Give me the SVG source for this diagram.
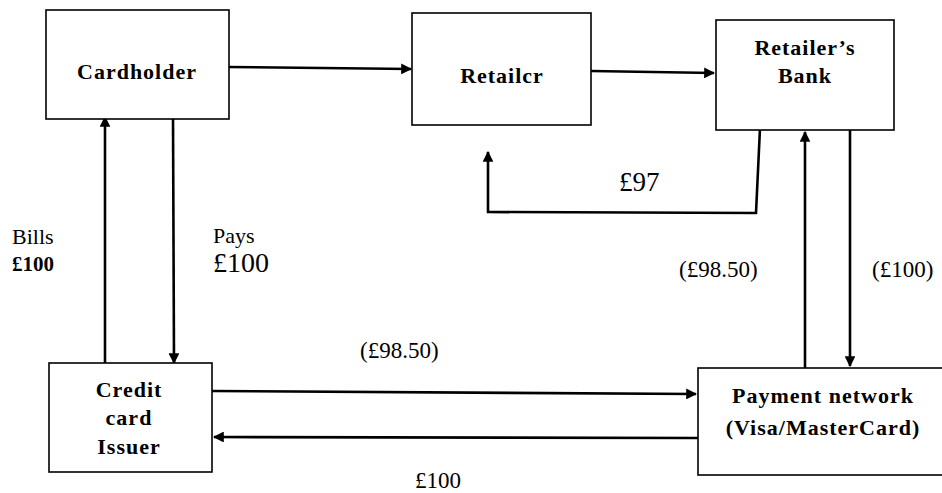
<svg xmlns="http://www.w3.org/2000/svg" width="942" height="493" viewBox="0 0 942 493">
<style>
.box{fill:#fff;stroke:#000;stroke-width:1.6}
.lbl{font-family:"Liberation Serif","Times New Roman",serif;font-weight:bold;font-size:22px;letter-spacing:1px;fill:#000;text-anchor:middle}
.t{font-family:"Liberation Serif","Times New Roman",serif;fill:#000}
.c{stroke:#000;stroke-width:2.6;fill:none}
</style>
<defs>
<marker id="ah" viewBox="0 0 10 10" refX="9" refY="5" markerWidth="4.2" markerHeight="4.2" orient="auto" markerUnits="strokeWidth">
<path d="M0,0 L10,5 L0,10 z" fill="#000"/>
</marker>
</defs>
<rect width="942" height="493" fill="#fff"/>
<g id="connectors">
<line class="c" x1="229" y1="67" x2="411" y2="69" marker-end="url(#ah)"/>
<line class="c" x1="591" y1="71" x2="714" y2="73" marker-end="url(#ah)"/>
<polyline class="c" points="760,128 756,213 488,212 488,152" marker-end="url(#ah)"/>
<line class="c" x1="105" y1="363" x2="105" y2="117" marker-end="url(#ah)"/>
<line class="c" x1="173" y1="116" x2="174" y2="363" marker-end="url(#ah)"/>
<line class="c" x1="212" y1="391" x2="696" y2="394" marker-end="url(#ah)"/>
<line class="c" x1="698" y1="438" x2="214" y2="437" marker-end="url(#ah)"/>
<line class="c" x1="805" y1="368" x2="805" y2="132" marker-end="url(#ah)"/>
<line class="c" x1="850" y1="129" x2="850" y2="366" marker-end="url(#ah)"/>
</g>
<g id="cardholder">
<rect class="box" x="46" y="10" width="183" height="109"/>
<text class="lbl" x="137" y="79">Cardholder</text>
</g>
<g id="retailer">
<rect class="box" x="412" y="13" width="179" height="112"/>
<text class="lbl" x="502" y="83">Retailcr</text>
</g>
<g id="retailers-bank">
<rect class="box" x="716" y="20" width="178" height="110"/>
<text class="lbl" x="805" y="55">Retailer’s</text>
<text class="lbl" x="805" y="83">Bank</text>
</g>
<g id="credit-card-issuer">
<rect class="box" x="49" y="363" width="163" height="109"/>
<text class="lbl" x="129" y="397">Credit</text>
<text class="lbl" x="129" y="425">card</text>
<text class="lbl" x="129" y="454">Issuer</text>
</g>
<g id="payment-network">
<rect class="box" x="698" y="368" width="250" height="107"/>
<text class="lbl" x="823" y="403">Payment network</text>
<text class="lbl" x="823" y="435">(Visa/MasterCard)</text>
</g>
<g id="labels">
<text class="t" x="12" y="244" font-size="22">Bills</text>
<text class="t" x="12" y="271" font-size="21" font-weight="bold">£100</text>
<text class="t" x="213" y="243" font-size="22">Pays</text>
<text class="t" x="213" y="272" font-size="28">£100</text>
<text class="t" x="619" y="191" font-size="27">£97</text>
<text class="t" x="679" y="277" font-size="23">(£98.50)</text>
<text class="t" x="872" y="277" font-size="23">(£100)</text>
<text class="t" x="360" y="358" font-size="23">(£98.50)</text>
<text class="t" x="415" y="488" font-size="23">£100</text>
</g>
</svg>
